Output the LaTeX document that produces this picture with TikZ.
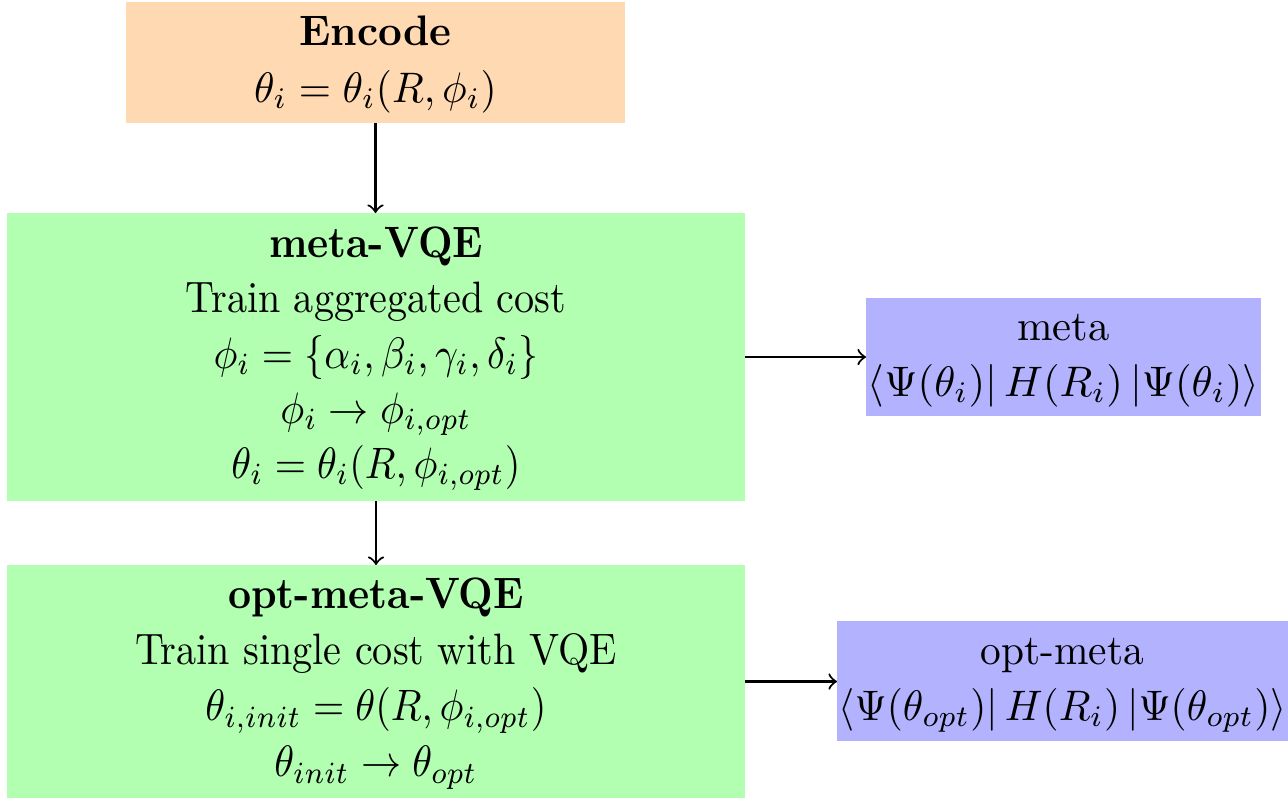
\documentclass[tikz,border=0pt]{standalone}
\usepackage{amsmath}
\usepackage{graphicx}

% stacked, centred lines with horizontal/vertical scaling and line pitch
\newcommand{\stacklines}[4]{%
  \scalebox{#1}[#2]{\renewcommand{\arraystretch}{#3}%
    \begin{tabular}{@{}c@{}}#4\end{tabular}}}

\tikzset{
  blockbase/.style={inner sep=0pt, outer sep=0pt, anchor=center},
  encodebox/.style={blockbase, fill=orange!30,
    minimum width=499*0.2342pt, minimum height=120.7*0.2342pt},
  stagebox/.style={blockbase, fill=green!30, minimum width=738*0.2342pt},
  resultbox/.style={blockbase, fill=blue!30},
  flow/.style={->, black, line width=0.5pt}
}

\begin{document}
\begin{tikzpicture}[x=0.2342pt, y=-0.2342pt]
  \useasboundingbox (0,0) rectangle (1288,800);

  \node[encodebox] (enc) at (375.5,62.3)
    {\stacklines{0.97}{1.0}{1.11}{\textbf{Encode}\\ $\theta_i=\theta_i(R,\phi_i)$}};

  \node[stagebox, minimum height=288*0.2342pt] (mvqe) at (376,357)
    {\stacklines{0.94}{1.03}{1.045}{%
      \textbf{meta-VQE}\\
      Train aggregated cost\\
      $\phi_i=\{\alpha_i,\beta_i,\gamma_i,\delta_i\}$\\
      $\phi_i\rightarrow\phi_{i,opt}$\\
      $\theta_i=\theta_i(R,\phi_{i,opt})$}};

  \node[stagebox, minimum height=233*0.2342pt] (ovqe) at (376,681.5)
    {\stacklines{0.94}{1.03}{1.06}{%
      \textbf{opt-meta-VQE}\\
      Train single cost with VQE\\
      $\theta_{i,init}=\theta(R,\phi_{i,opt})$\\
      $\theta_{init}\rightarrow\theta_{opt}$}};

  \node[resultbox, minimum width=395*0.2342pt, minimum height=118*0.2342pt] (meta) at (1063.5,357)
    {\stacklines{1}{1}{1.09}{%
      meta\\
      $\left\langle\Psi(\theta_i)\right\rvert H(R_i)\left\lvert\Psi(\theta_i)\right\rangle$}};

  \node[resultbox, minimum width=451*0.2342pt, minimum height=120*0.2342pt] (ometa) at (1062.5,681)
    {\stacklines{0.97}{1}{1.09}{%
      opt-meta\\
      $\left\langle\Psi(\theta_{opt})\right\rvert H(R_i)\left\lvert\Psi(\theta_{opt})\right\rangle$}};

  \draw[flow] (enc.south) -- (enc.south |- mvqe.north);
  \draw[flow] (mvqe.south) -- (ovqe.north);
  \draw[flow] (mvqe.east) -- (meta.west);
  \draw[flow] (ovqe.east) -- (ovqe.east -| ometa.west);
\end{tikzpicture}
\end{document}
